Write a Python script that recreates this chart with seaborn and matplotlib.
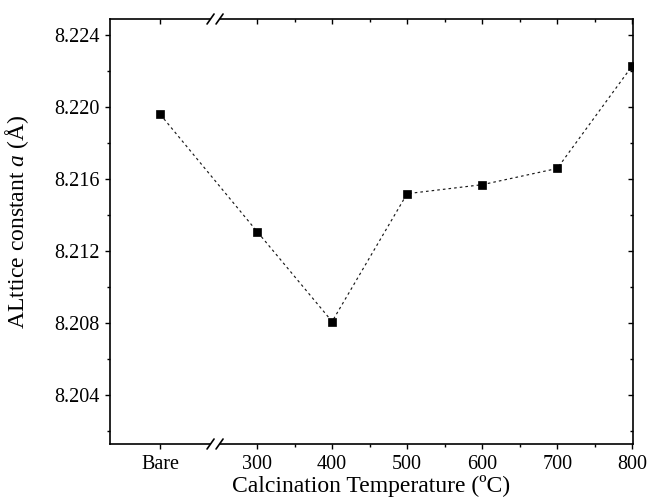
import matplotlib
matplotlib.use("Agg")
import matplotlib.pyplot as plt
import matplotlib.lines as mlines
import matplotlib.patches as mpatches
import seaborn as sns
import pandas as pd

# Sample labels, their positions on the temperature axis, and lattice constants
labels = ["Bare", "300", "400", "500", "600", "700", "800"]
x_pos = [171, 300, 400, 500, 600, 700, 800]
lattice = [8.2196, 8.2131, 8.2081, 8.2152, 8.2157, 8.2166, 8.2223]

x_minor = [350, 450, 550, 650, 750]
y_major = [8.204, 8.208, 8.212, 8.216, 8.220, 8.224]
y_minor = [8.202, 8.206, 8.210, 8.214, 8.218, 8.222]
break_x = 244

sns.set_theme(style="ticks")
plt.rcParams["font.family"] = ["Liberation Serif", "DejaVu Serif"]
plt.rcParams["mathtext.fontset"] = "custom"
plt.rcParams["mathtext.it"] = "Liberation Serif:italic"
plt.rcParams["mathtext.rm"] = "Liberation Serif"

W, H = 647, 500
fig = plt.figure(figsize=(W / 100, H / 100), dpi=100)
ax_l, ax_b, ax_w, ax_h = 110, 56, 523, 425
ax = fig.add_axes([ax_l / W, ax_b / H, ax_w / W, ax_h / H])

df = pd.DataFrame({"x": x_pos, "a": lattice})
sns.lineplot(data=df, x="x", y="a", ax=ax, sort=False, color="#1a1a1a",
             linewidth=0.85, linestyle=(0, (2.2, 2.6)), marker="s",
             markersize=6, markerfacecolor="black", markeredgecolor="black",
             markeredgewidth=0.5)

xmin, xmax = 104, 801
ax.set_xlim(xmin, xmax)
ax.set_ylim(8.2013, 8.2249)

ax.set_xticks(x_pos, labels)
ax.set_xticks(x_minor, minor=True)
ax.set_yticks(y_major, [f"{v:.3f}" for v in y_major])
ax.set_yticks(y_minor, minor=True)

for s in ax.spines.values():
    s.set_visible(True)
    s.set_linewidth(1.2)
    s.set_color("black")

ax.tick_params(which="both", direction="out", width=1.0, color="black",
               labelsize=14.5, labelcolor="black")
ax.tick_params(which="major", length=3.6)
ax.tick_params(which="minor", length=2.3)
ax.tick_params(axis="y", pad=4)
ax.tick_params(axis="x", pad=4)

# Mirrored inward ticks on the top and right edges
top = ax.secondary_xaxis("top")
top.set_xticks(x_pos)
top.set_xticks(x_minor, minor=True)
top.tick_params(which="both", direction="in", labeltop=False, width=1.0, color="black")
top.tick_params(which="major", length=3.6)
top.tick_params(which="minor", length=2.3)
top.spines["top"].set_visible(False)

right = ax.secondary_yaxis("right")
right.set_yticks(y_major)
right.set_yticks(y_minor, minor=True)
right.tick_params(which="both", direction="in", labelright=False, width=1.0, color="black")
right.tick_params(which="major", length=3.6)
right.tick_params(which="minor", length=2.3)
right.spines["right"].set_visible(False)

ax.set_xlabel("Calcination Temperature (\u00baC)", fontsize=17, color="black", labelpad=1)
ax.set_ylabel("ALttice constant $a$ (\u00c5)", fontsize=17, color="black")
ax.yaxis.set_label_coords(-0.151, 0.523)

# Axis break marks on the bottom and top spines
bx = (break_x - xmin) / (xmax - xmin)
px, py = 1 / ax_w, 1 / ax_h
for yb in (0.0, 1.0):
    fig.add_artist(mpatches.Rectangle((bx - 4 * px, yb - 3 * py), 8 * px, 6 * py,
                                      transform=ax.transAxes, facecolor="white",
                                      edgecolor="none", zorder=5, clip_on=False))
    for dx in (-4.5, 4.5):
        fig.add_artist(mlines.Line2D([bx + (dx - 3.5) * px, bx + (dx + 3.5) * px],
                                     [yb - 5 * py, yb + 5 * py],
                                     transform=ax.transAxes, color="black",
                                     linewidth=1.2, zorder=6, clip_on=False))

fig.savefig("out.png", dpi=100)
